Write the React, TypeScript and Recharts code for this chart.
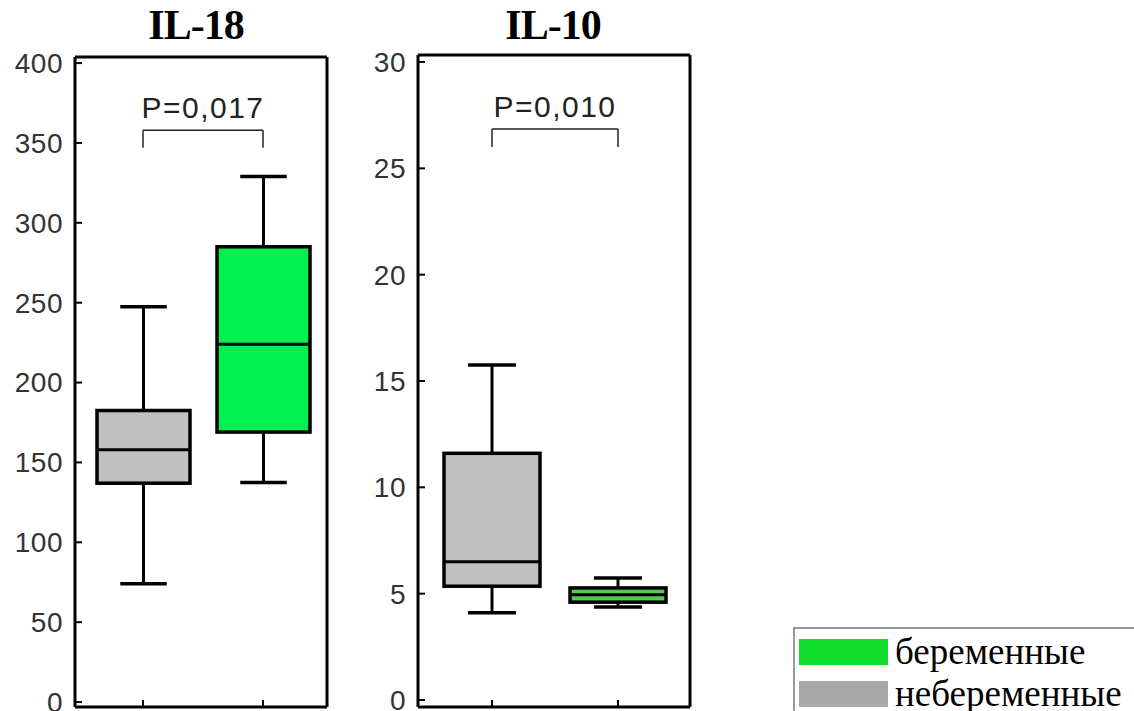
import * as React from 'react';
import { ComposedChart, Bar, XAxis, YAxis, ReferenceLine } from 'recharts';

const groups = ['небеременные', 'беременные'];
const legendLabels = ['беременные', 'небеременные'];

// IL-18: min, Q1, median, Q3, max per group
const il18Min = [74, 137.5];
const il18Q1 = [137, 169];
const il18Med = [158, 224];
const il18Q3 = [182.5, 285];
const il18Max = [247.5, 329];
const il18Ticks = [0, 50, 100, 150, 200, 250, 300, 350, 400];

// IL-10
const il10Min = [4.1, 4.37];
const il10Q1 = [5.35, 4.6];
const il10Med = [6.5, 4.95];
const il10Q3 = [11.6, 5.27];
const il10Max = [15.75, 5.74];
const il10Ticks = [0, 5, 10, 15, 20, 25, 30];

const il18P = { text: 'P=0,017', bracket: 358, foot: 347 };
const il10P = { text: 'P=0,010', bracket: 26.85, foot: 26.0 };

const build = (mn: number[], q1: number[], med: number[], q3: number[], mx: number[], fills: string[]) =>
  groups.map((g, i) => ({
    name: g,
    box: [q1[i], q3[i]],
    min: mn[i],
    q1: q1[i],
    med: med[i],
    q3: q3[i],
    max: mx[i],
    fill: fills[i],
  }));

const il18Data = build(il18Min, il18Q1, il18Med, il18Q3, il18Max, ['#c0c0c0', '#00f050']);
const il10Data = build(il10Min, il10Q1, il10Med, il10Q3, il10Max, ['#c0c0c0', '#55c855']);

const BoxShape = (props: any) => {
  const { x, y, width, height, payload } = props;
  const top = Math.min(y, y + height);
  const h = Math.abs(height);
  const ppu = h / (payload.q3 - payload.q1);
  const py = (v: number) => top + (payload.q3 - v) * ppu;
  const cx = x + width / 2;
  const cw = width / 4;
  return (
    <g>
      <line x1={cx} x2={cx} y1={py(payload.max)} y2={py(payload.min)} stroke="#000" strokeWidth={3} />
      <line x1={cx - cw} x2={cx + cw} y1={py(payload.max)} y2={py(payload.max)} stroke="#000" strokeWidth={3.5} />
      <line x1={cx - cw} x2={cx + cw} y1={py(payload.min)} y2={py(payload.min)} stroke="#000" strokeWidth={3.5} />
      <rect x={x} y={top} width={width} height={h} fill={payload.fill} stroke="#000" strokeWidth={3.5} />
      <line x1={x} x2={x + width} y1={py(payload.med)} y2={py(payload.med)} stroke="#000" strokeWidth={3} />
    </g>
  );
};

const tickStyle = { fontFamily: 'Liberation Sans, Arial', fontSize: 28, fill: '#333', letterSpacing: 0.5 };
const axisStyle = { stroke: '#000', strokeWidth: 3 };

const Panel = (p: any) => (
  <ComposedChart width={p.width} height={711} data={p.data} margin={p.margin}>
    <XAxis dataKey="name" type="category" height={1} padding={p.pad} axisLine={axisStyle}
      tickLine={{ stroke: '#000', strokeWidth: 2 }} tickSize={-7} tickFormatter={() => ''} />
    <XAxis xAxisId="top" dataKey="name" orientation="top" height={1} axisLine={axisStyle} tick={false} tickLine={false} />
    <YAxis type="number" domain={p.domain} ticks={p.ticks} allowDataOverflow width={60}
      axisLine={axisStyle} tickLine={{ stroke: '#000', strokeWidth: 2 }} tickSize={-7} tickMargin={19}
      tick={tickStyle} interval={0} />
    <YAxis yAxisId="right" orientation="right" width={1} axisLine={axisStyle} tick={false} tickLine={false} />
    <ReferenceLine segment={[{ x: groups[0], y: p.pv.bracket }, { x: groups[1], y: p.pv.bracket }]}
      stroke="#222" strokeWidth={1.5}
      label={{ value: p.pv.text, position: 'top', offset: 12, fontFamily: 'Liberation Sans, Arial', fontSize: 30, fill: '#222', letterSpacing: 1.5 }} />
    <ReferenceLine segment={[{ x: groups[0], y: p.pv.bracket }, { x: groups[0], y: p.pv.foot }]} stroke="#222" strokeWidth={1.5} />
    <ReferenceLine segment={[{ x: groups[1], y: p.pv.bracket }, { x: groups[1], y: p.pv.foot }]} stroke="#222" strokeWidth={1.5} />
    <Bar dataKey="box" barSize={p.barSize} shape={<BoxShape />} isAnimationActive={false} />
  </ComposedChart>
);

const titleStyle: React.CSSProperties = {
  position: 'absolute', top: 0, fontFamily: 'Liberation Serif, Times New Roman', fontWeight: 'bold',
  fontSize: 42, lineHeight: '50px', textAlign: 'center', width: 200, letterSpacing: -1,
};

export default function App() {
  return (
    <div style={{ position: 'absolute', left: 0, top: 0, width: 1134, height: 711, background: '#fff', overflow: 'hidden' }}>
      <div style={{ position: 'absolute', left: 0, top: 0 }}>
        <Panel width={340} data={il18Data} margin={{ top: 56, right: 12, left: 15, bottom: 3 }}
          pad={{ left: 8, right: 4 }} domain={[-3.1, 403.8]} ticks={il18Ticks} pv={il18P} barSize={93} />
      </div>
      <div style={{ position: 'absolute', left: 340, top: 0 }}>
        <Panel width={370} data={il10Data} margin={{ top: 54, right: 19, left: 18, bottom: 3 }}
          pad={{ left: 11, right: 9 }} domain={[-0.33, 30.33]} ticks={il10Ticks} pv={il10P} barSize={96} />
      </div>
      <div style={{ ...titleStyle, left: 96 }}>IL-18</div>
      <div style={{ ...titleStyle, left: 453 }}>IL-10</div>
      <div style={{ position: 'absolute', left: 793, top: 627, width: 360, height: 100, border: '2px solid #999', boxSizing: 'border-box' }}>
        {legendLabels.map((l, i) => (
          <div key={l} style={{ position: 'absolute', left: 4, top: 8 + i * 42, display: 'flex', alignItems: 'center' }}>
            <div style={{ width: 89, height: 26, background: i === 0 ? '#11dd2c' : '#a8a8a8' }} />
            <span style={{ fontFamily: 'Liberation Serif, Times New Roman', fontSize: 37, lineHeight: '30px', marginLeft: 7, color: '#000' }}>{l}</span>
          </div>
        ))}
      </div>
    </div>
  );
}
